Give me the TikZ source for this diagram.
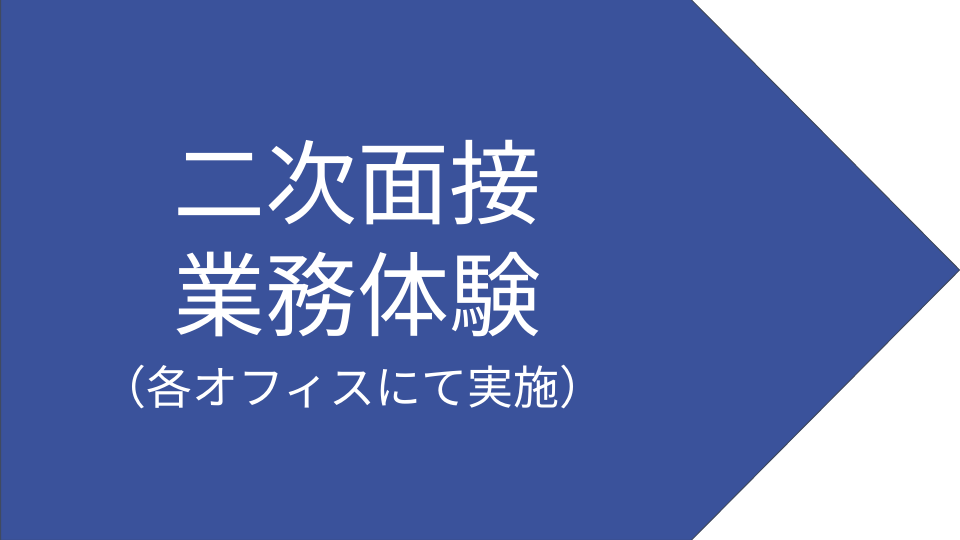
\documentclass[tikz,border=0pt]{standalone}
\usepackage{fontspec}
\newfontfamily\jp{Noto Sans CJK JP}
\definecolor{chevfill}{HTML}{3A529B}
\definecolor{chevline}{HTML}{404A60}
\tikzset{
  chev/.style={fill=chevfill, draw=chevline, line width=1pt},
  bigtxt/.style={text=white, anchor=base, inner sep=0pt, font=\jp\fontsize{92}{92}\selectfont},
  smalltxt/.style={text=white, anchor=base, inner sep=0pt, font=\jp\fontsize{46}{46}\selectfont}
}
\begin{document}
\begin{tikzpicture}[x=1pt,y=1pt]
\useasboundingbox (0,0) rectangle (960,540);
\path[chev] (0.5,540.5) -- (691,540.5) -- (959.5,270) -- (691,-0.5) -- (0.5,-0.5) -- cycle;
\node[bigtxt] (l1) at (357,322) {二次面接};
\node[bigtxt] (l2) at (357,210) {業務体験};
\node[smalltxt] (l3) at (353,135) {（各オフィスにて実施）};
\end{tikzpicture}
\end{document}
